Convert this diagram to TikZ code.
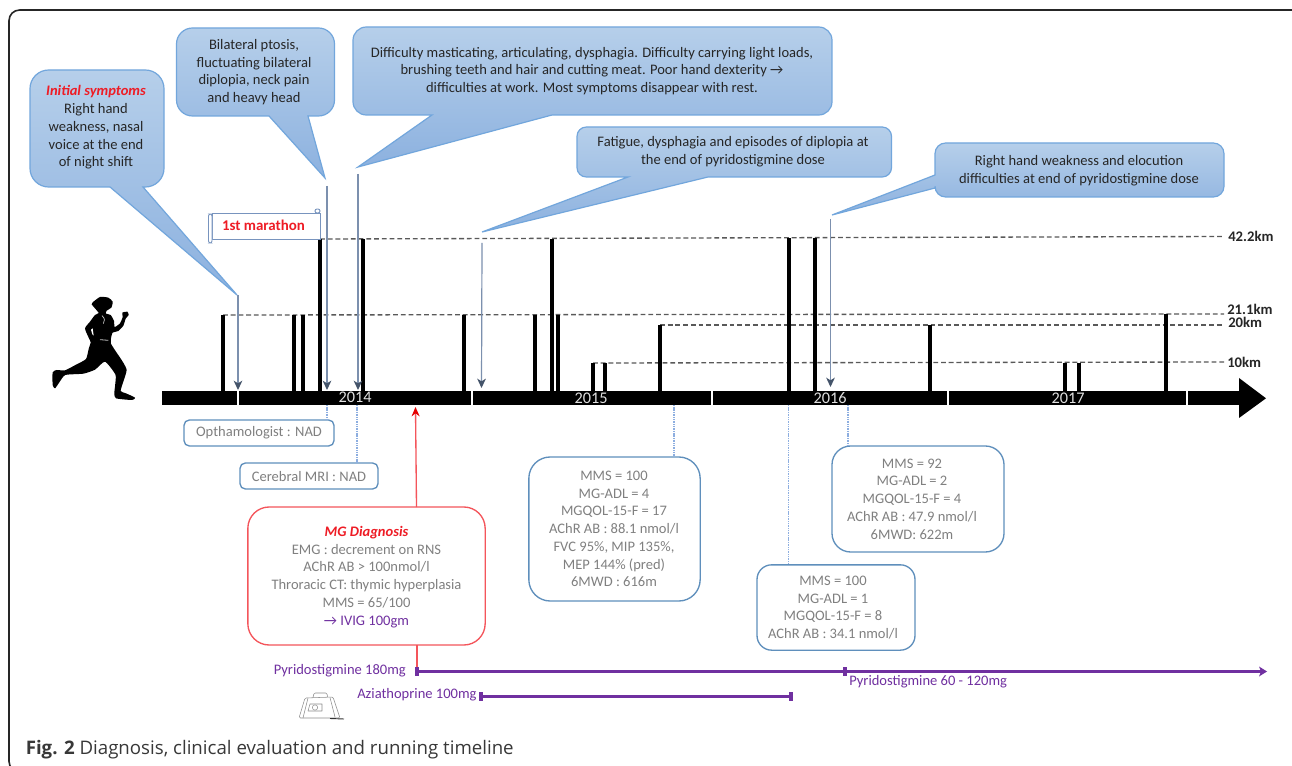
\documentclass[tikz,border=0pt]{standalone}
\usepackage{fontspec}
\setmainfont{Carlito}
\newfontfamily\capfont{Open Sans}
\usetikzlibrary{arrows.meta}
\definecolor{calltop}{HTML}{B6CFEA}
\definecolor{callbot}{HTML}{8CB1DF}
\definecolor{callline}{HTML}{72A6DC}
\definecolor{boxline}{HTML}{5F8FBC}
\definecolor{greytext}{HTML}{808080}
\definecolor{purp}{HTML}{7030A0}
\definecolor{redtext}{HTML}{EE1C25}
\definecolor{redline}{HTML}{F4555B}
\definecolor{arrline}{HTML}{7C90AE}
\definecolor{arrhead}{HTML}{44546A}
\definecolor{dotline}{HTML}{8DAEE0}
\tikzset{
  callshape/.style={top color=calltop,bottom color=callbot,draw=callline,line width=.9pt},
  calltext/.style={align=center,text=black!85,font=\fontsize{10.9}{13.3}\selectfont,inner sep=0pt},
  bluebox/.style={draw=boxline,line width=1pt,inner sep=0pt},
  boxtext/.style={align=center,text=greytext,font=\fontsize{10.9}{13.3}\selectfont,inner sep=0pt},
  redbox/.style={draw=redline,line width=1pt,rounded corners=16pt,inner sep=0pt},
  runbar/.style={line width=3pt,black},
  level/.style={draw=black!65,line width=1pt,dash pattern=on 3.6pt off 2.2pt},
  kmtext/.style={anchor=west,inner sep=0pt,text=black!85,font=\fontsize{11}{12}\selectfont\bfseries},
  yeartext/.style={text=black!12,font=\fontsize{12.2}{12}\selectfont,inner sep=0pt},
  downarrow/.style={draw=arrline,line width=.9pt,-{Stealth[length=7pt,width=6.5pt,inset=2pt,color=arrhead]}},
  dotlink/.style={draw=dotline,line width=.8pt,dash pattern=on .8pt off .5pt},
  druglabel/.style={text=purp,inner sep=0pt,font=\fontsize{10.9}{12}\selectfont},
  drugline/.style={draw=purp,line width=2pt},
  drugtick/.style={draw=purp,line width=2.4pt},
  axisseg/.style={fill=black}
}
\begin{document}
\begin{tikzpicture}[x=0.75pt,y=-0.75pt]
\useasboundingbox (0,0) rectangle (1292,766);
\clip (0,0) rectangle (1292,766);
\fill[white] (0,0) rectangle (1292,766);
% frame
\draw[black!85,line width=1.2pt,rounded corners=8pt] (9,10) rectangle (1310,772);

% callout shapes
\coordinate (tipA) at (237,295);
\coordinate (tipB) at (325,178);
\coordinate (tipC) at (358,167);
\coordinate (tipD) at (482,232);
\coordinate (tipE) at (832,215);
\path[callshape] (97,70) [rounded corners=14pt] -- (164,70) -- (164,187) [sharp corners] -- (143,187) -- (tipA) -- (110,187) [rounded corners=14pt] -- (30,187) -- (30,70) -- cycle;
\path[callshape] (255,28) [rounded corners=12pt] -- (334.5,28) -- (334.5,116) [sharp corners] -- (308,116) -- (tipB) -- (269,116) [rounded corners=12pt] -- (176.5,116) -- (176.5,28) -- cycle;
\path[callshape] (592,27) [rounded corners=10pt] -- (832,27) -- (832,115) [sharp corners] -- (552,115) -- (tipC) -- (432,115) [rounded corners=10pt] -- (353,115) -- (353,27) -- cycle;
\path[callshape] (734,127) [rounded corners=7pt] -- (891.5,127) -- (891.5,177) [sharp corners] -- (708,177) -- (tipD) -- (628,177) [rounded corners=7pt] -- (577,177) -- (577,127) -- cycle;
\path[callshape] (1080,143) [rounded corners=8pt] -- (1224,143) -- (1224,197) -- (935,197) [sharp corners] -- (935,188) -- (tipE) -- (935,175) [rounded corners=8pt] -- (935,143) -- cycle;

% callout texts
\node[calltext] (symA) at (96,127.5) {{\color{redtext}\bfseries\itshape Initial symptoms}\\Right hand\\weakness, nasal\\voice at the end\\of night shift};
\node[calltext] (symB) at (254,72) {Bilateral ptosis,\\fluctuating bilateral\\diplopia, neck pain\\and heavy head};
\node[calltext] (symC) at (592,71) {Difficulty masticating, articulating, dysphagia. Difficulty carrying light loads,\\brushing teeth and hair and cutting meat. Poor hand dexterity →\\difficulties at work. Most symptoms disappear with rest.};
\node[calltext] (symD) at (733,152) {Fatigue, dysphagia and episodes of diplopia at\\the end of pyridostigmine dose};
\node[calltext] (symE) at (1079,171) {Right hand weakness and elocution\\difficulties at end of pyridostigmine dose};

% distance levels
\coordinate (lvlA) at (1224,236.5);
\coordinate (lvlB) at (1224,314);
\coordinate (lvlC) at (1224,325);
\coordinate (lvlD) at (1224,362);
\draw[level] (320,239) -- (lvlA);
\draw[level] (223,315) -- (lvlB);
\draw[level] (660,325) -- (lvlC);
\draw[level] (593,363) -- (lvlD);
\node[kmtext] (kmA) at (1228,236) {42.2km};
\node[kmtext] (kmB) at (1227,309) {21.1km};
\node[kmtext] (kmC) at (1228,322.5) {20km};
\node[kmtext] (kmD) at (1227,362) {10km};

% runs
\foreach \x/\t in {223/315,294/315,303/315,320/239,363/239,464/315,535/315,552/239,558/315,593/363,605/363,660/325,788.5/238,815/238,930/325,1065/363,1079/363,1166/314}
  \draw[runbar] (\x,392) -- (\x,\t);

% axis
\foreach \a/\b in {162/237,239/471,473/711,713/947,949/1185.5,1187.5/1240}
  \fill[axisseg] (\a,391.5) rectangle (\b,405);
\fill[black] (1239,378) -- (1266,398.3) -- (1239,418) -- cycle;
\node[yeartext] (yA) at (355,397.5) {2014};
\node[yeartext] (yB) at (591,398.5) {2015};
\node[yeartext] (yC) at (830,398.5) {2016};
\node[yeartext] (yD) at (1068,398.5) {2017};

% symptom arrows
\coordinate (arA) at (238,295); \coordinate (atA) at (238,390);
\coordinate (arB) at (327,186); \coordinate (atB) at (327,390);
\coordinate (arC) at (358,174); \coordinate (atC) at (358,390);
\coordinate (arD) at (482,243); \coordinate (atD) at (481.5,388);
\coordinate (arE) at (830.5,219); \coordinate (atE) at (830.5,387);
\draw[downarrow] (arA) -- (atA);
\draw[downarrow] (arB) -- (atB);
\draw[downarrow] (arC) -- (atC);
\draw[downarrow] (arD) -- (atD);
\draw[downarrow] (arE) -- (atE);

% evaluation boxes
\node[bluebox,rounded corners=4pt,minimum width=112.5pt,minimum height=19.5pt] (oph) at (259,433) {};
\node[boxtext] (ophT) at (259,433) {Opthamologist : NAD};
\node[bluebox,rounded corners=4pt,minimum width=103.5pt,minimum height=19.5pt] (mri) at (309,476) {};
\node[boxtext] (mriT) at (309,476.5) {Cerebral MRI : NAD};
\node[redbox,minimum width=178pt,minimum height=103.5pt] (diag) at (366.5,576) {};
\node[boxtext] (diagT) at (366.5,577) {{\color{redtext}\bfseries\itshape MG Diagnosis}\\EMG : decrement on RNS\\AChR AB > 100nmol/l\\Throracic CT: thymic hyperplasia\\MMS = 65/100\\{\color{purp}→ IVIG 100gm}};
\node[bluebox,rounded corners=16pt,minimum width=128.5pt,minimum height=108pt] (evalA) at (614.5,529) {};
\node[boxtext] (evalAT) at (614,529) {MMS = 100\\MG-ADL = 4\\MGQOL-15-F = 17\\AChR AB : 88.1 nmol/l\\FVC 95\%, MIP 135\%,\\MEP 144\% (pred)\\6MWD : 616m};
\node[bluebox,rounded corners=14pt,minimum width=129pt,minimum height=79.5pt] (evalB) at (918,499) {};
\node[boxtext] (evalBT) at (912,499) {MMS = 92\\MG-ADL = 2\\MGQOL-15-F = 4\\AChR AB : 47.9 nmol/l\\6MWD: 622m};
\node[bluebox,rounded corners=11pt,minimum width=118.5pt,minimum height=64pt] (evalC) at (836,607.5) {};
\node[boxtext] (evalCT) at (833,607.5) {MMS = 100\\MG-ADL = 1\\MGQOL-15-F = 8\\AChR AB : 34.1 nmol/l};

% dotted links
\coordinate (dA) at (327,405); \coordinate (dB) at (357,405); \coordinate (dC) at (674,405); \coordinate (dD) at (788.5,405); \coordinate (dE) at (848,405);
\draw[dotlink] (dA) -- (dA |- oph.north);
\draw[dotlink] (dB) -- (dB |- mri.north);
\draw[dotlink] (dC) -- (dC |- evalA.north);
\draw[dotlink] (dD) -- (dD |- evalC.north);
\draw[dotlink] (dE) -- (dE |- evalB.north);

% diagnosis links
\coordinate (redTop) at (415.5,407);
\coordinate (pyrStart) at (417,671.5);
\draw[draw=redline,line width=1pt,-{Stealth[length=7pt,width=6pt,color=red!90!black]}] (416.5,507) -- (redTop);
\draw[draw=redline,line width=1pt] (417,645) -- (pyrStart);

% drugs
\coordinate (pyrEnd) at (1267,671.5);
\coordinate (pyrNeck) at (1262,671.5);
\coordinate (azaStart) at (481,696.5);
\coordinate (azaEnd) at (791,696.5);
\draw[drugline] (pyrStart) -- (pyrNeck);
\fill[purp] (1259,666.5) -- (pyrEnd) -- (1259,676.5) -- (1261,671.5) -- cycle;
\draw[drugtick] (417,667) -- (417,676);
\draw[drugtick] (845,667) -- (845,676);
\draw[drugline] (azaStart) -- (azaEnd);
\draw[drugtick] (481,692) -- (481,701);
\draw[drugtick] (791,692) -- (791,701);
\node[druglabel,anchor=east] (pyrA) at (406,671) {Pyridostigmine 180mg};
\node[druglabel,anchor=west] (azaL) at (357,695) {Aziathoprine 100mg};
\node[druglabel,anchor=west] (pyrB) at (849,682) {Pyridostigmine 60 - 120mg};

% banner
\draw[draw=dotline!85!black,fill=white,line width=.7pt] (212,213) rectangle (320,239);
\draw[draw=dotline!85!black,fill=white,line width=.7pt,rounded corners=1.5pt] (208.5,214) rectangle (212,243);
\draw[draw=dotline!85!black,fill=white,line width=.7pt,rounded corners=1.5pt] (315,209) rectangle (320,213);
\node[inner sep=0pt,text=redtext,font=\fontsize{11.2}{12}\selectfont\bfseries] (mar) at (263.5,225) {1st marathon};

% runner
\begin{scope}[shift={(40,285)},x=0.25pt,y=-0.25pt]
\fill[black] plot[smooth cycle,tension=.35] coordinates {
(158,52)(180,36)(205,38)(218,50)(214,68)(200,77)(198,86)(212,90)(222,108)(224,126)(240,115)(248,96)
(247,83)(262,80)(266,90)(257,101)(250,122)(235,138)(218,143)(213,160)(213,176)(226,197)(248,230)
(260,255)(250,290)(242,318)(258,325)(285,338)(276,345)(228,340)(223,325)(226,295)(226,268)(195,230)
(165,254)(130,266)(76,270)(58,292)(45,310)(38,300)(38,262)(50,255)(75,256)(110,238)(138,222)
(146,192)(152,172)(146,158)(135,130)(150,110)(165,90)(176,84)(165,70)(155,58)};
\draw[black!25,line width=.6pt] (180,164) -- (205,166);
\draw[black!20,line width=.5pt] (186,92) .. controls (196,100) and (194,110) .. (190,116);
\fill[white] (153,134) -- (158,130) -- (161,152) -- (157,148) -- cycle;
\end{scope}

% bag
\begin{scope}[black!45,line width=.4pt,line join=round]
\draw[rounded corners=1pt] (305,698) -- (333,697) -- (340,718) -- (299,718) -- cycle;
\draw[rounded corners=1pt] (313,697.5) -- (314,693) -- (327,693) -- (327.5,697);
\draw (308,698) -- (303,718);
\draw (330,697.5) -- (335,717);
\draw (310,704) -- (322,704) -- (322,711) -- (308,711) -- cycle;
\draw (315,707.5) circle[radius=2pt];
\draw[black!80,line width=.7pt] (330,718.5) -- (344,719);
\end{scope}

% caption
\node[anchor=base west,inner sep=0pt,text=black!78,font=\capfont\fontsize{14}{16}\selectfont] (cap) at (25.5,754) {\textbf{Fig. 2} Diagnosis, clinical evaluation and running timeline};
\end{tikzpicture}
\end{document}
